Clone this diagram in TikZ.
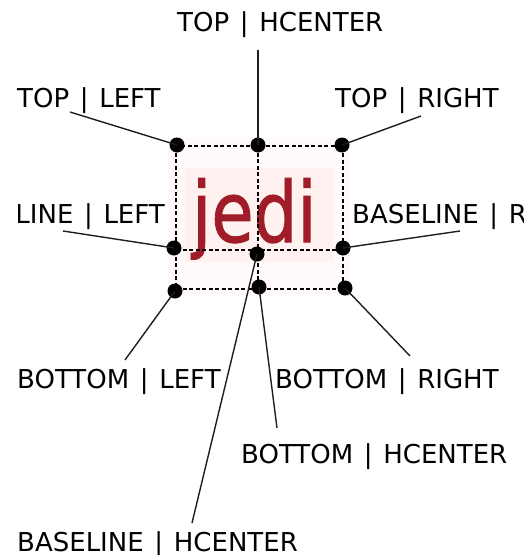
\documentclass[tikz,border=0pt]{standalone}
\usepackage{fontspec}
\setmainfont{DejaVu Sans}
\definecolor{jedired}{RGB}{160,28,40}
\definecolor{glow}{RGB}{255,238,236}
\definecolor{leader}{RGB}{30,30,30}
\newcommand{\vsep}{\hspace{0.41em}|\hspace{0.41em}}
\begin{document}
\begin{tikzpicture}[x=1pt,y=-1pt,
  lbl/.style={inner sep=0pt,font=\fontsize{26}{30}\selectfont,text=black},
  dot/.style={circle,fill=black,inner sep=0pt,minimum size=15pt},
  leaderline/.style={draw=leader,line width=1.4pt},
  guide/.style={draw=black,line width=1.2pt,dash pattern=on 4pt off 2.5pt}]
\useasboundingbox (0,0) rectangle (523,555);
\clip (0,0) rectangle (523,555);
% glow behind the text
\fill[glow!30] (168,138) rectangle (350,296);
\fill[glow!80] (185,168) rectangle (333,262);
% sample text
\node[inner sep=0pt,anchor=base west,text=jedired,xscale=0.82,
  font=\fontsize{84}{90}\selectfont] (jedi) at (192,242)
  {\addfontfeature{FakeBold=1.2}jedi};
% guides
\coordinate (gTL) at (176,146);
\coordinate (gTC) at (258,146);
\coordinate (gTR) at (343,146);
\coordinate (gBL) at (176,289);
\coordinate (gBC) at (258,289);
\coordinate (gBR) at (343,289);
\coordinate (gLL) at (176,250);
\coordinate (gLR) at (343,250);
\draw[guide] (gTL) rectangle (gBR);
\draw[guide] (gTC) -- (gBC);
\draw[guide] (gLL) -- (gLR);
% dots
\node[dot] (tl) at (177,145) {};
\node[dot] (tc) at (258,145) {};
\node[dot] (tr) at (342,145) {};
\node[dot] (ll) at (174,248) {};
\node[dot] (lc) at (257,254) {};
\node[dot] (lr) at (343,248) {};
\node[dot] (bl) at (175,291) {};
\node[dot] (bc) at (259,287) {};
\node[dot] (br) at (345,288) {};
% labels
\node[lbl,anchor=base west] (ltc) at (177,31) {TOP\vsep HCENTER};
\node[lbl,anchor=base west] (ltl) at (17,107) {TOP\vsep LEFT};
\node[lbl,anchor=base west] (ltr) at (335,107) {TOP\vsep RIGHT};
\begin{scope}
\clip (18,150) rectangle (200,240);
\node[lbl,anchor=base east] (lll) at (165,223) {BASELINE\vsep LEFT};
\end{scope}
\node[lbl,anchor=base west] (llr) at (352,223) {BASELINE\vsep RIGHT};
\node[lbl,anchor=base west] (lbl) at (17,388) {BOTTOM\vsep LEFT};
\node[lbl,anchor=base west] (lbr) at (275,388) {BOTTOM\vsep RIGHT};
\node[lbl,anchor=base west] (lbc) at (241,463) {BOTTOM\vsep HCENTER};
\node[lbl,anchor=base west] (llc) at (17,551) {BASELINE\vsep HCENTER};
% leader ends
\coordinate (etc) at (258,50);
\coordinate (etl) at (70,112);
\coordinate (etr) at (421,116);
\coordinate (ell) at (63,231);
\coordinate (elr) at (460,231);
\coordinate (ebl) at (125,360);
\coordinate (ebr) at (410,356);
\coordinate (ebc) at (277,428);
\coordinate (elc) at (192,523);
\draw[leaderline] (etc) -- (tc.center);
\draw[leaderline] (etl) -- (tl.center);
\draw[leaderline] (etr) -- (tr.center);
\draw[leaderline] (ell) -- (ll.center);
\draw[leaderline] (elr) -- (lr.center);
\draw[leaderline] (ebl) -- (bl.center);
\draw[leaderline] (ebr) -- (br.center);
\draw[leaderline] (ebc) -- (bc.center);
\draw[leaderline] (elc) -- (lc.center);
\end{tikzpicture}
\end{document}
